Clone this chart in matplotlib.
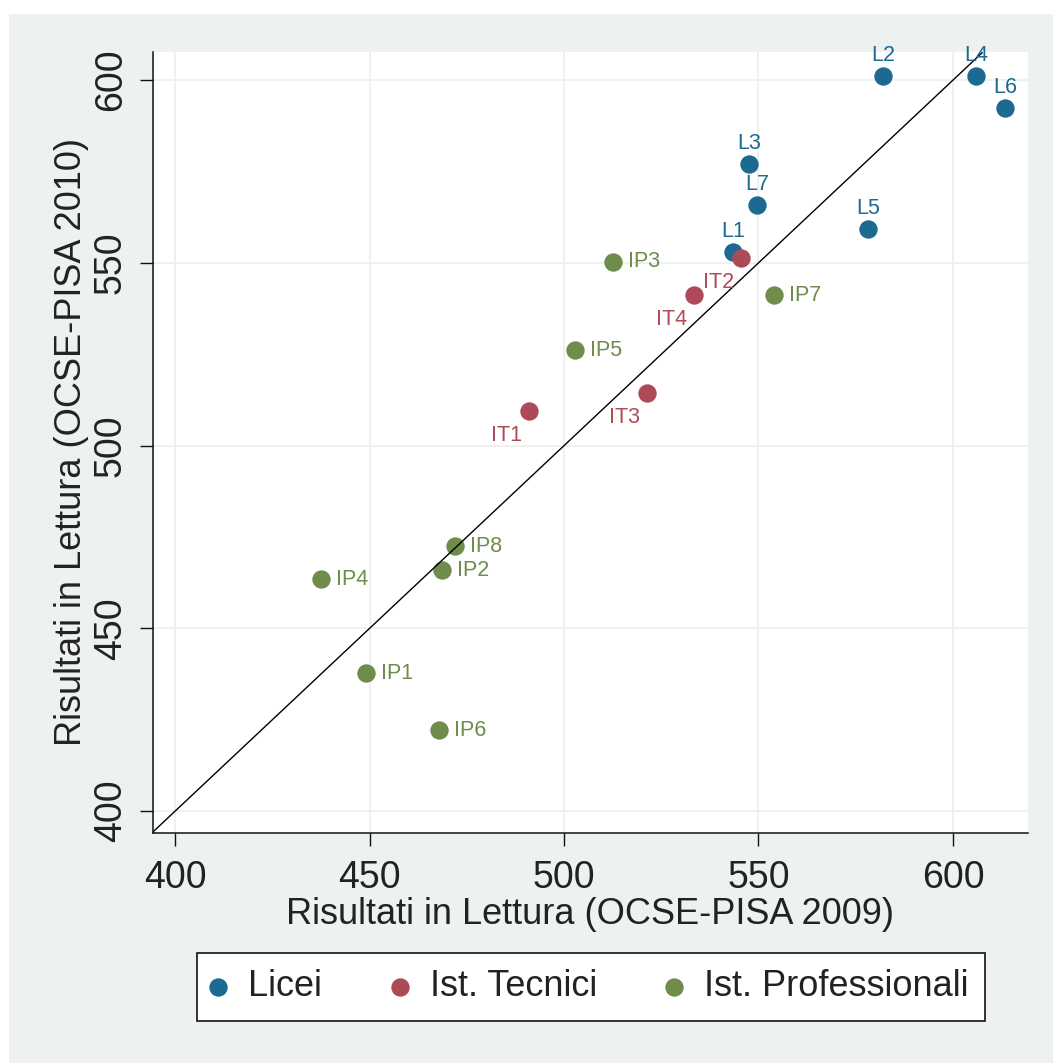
import matplotlib
matplotlib.use("Agg")
import matplotlib.pyplot as plt
from matplotlib.patches import Rectangle

plt.rcParams['font.family'] = ['Liberation Sans', 'DejaVu Sans']

# Licei
lic_names = ["L1", "L2", "L3", "L4", "L5", "L6", "L7"]
lic_2009 = [543.4, 582.0, 547.6, 605.9, 578.1, 613.4, 549.6]
lic_2010 = [552.9, 601.1, 577.0, 601.1, 559.2, 592.3, 565.8]

# Istituti tecnici
tec_names = ["IT1", "IT2", "IT3", "IT4"]
tec_2009 = [491.0, 545.5, 521.3, 533.4]
tec_2010 = [509.4, 551.2, 514.4, 541.2]

# Istituti professionali
pro_names = ["IP1", "IP2", "IP3", "IP4", "IP5", "IP6", "IP7", "IP8"]
pro_2009 = [449.1, 468.6, 512.6, 437.5, 502.8, 467.9, 554.0, 472.0]
pro_2010 = [437.7, 465.9, 550.3, 463.4, 526.1, 422.1, 541.2, 472.5]

ticks = [400, 450, 500, 550, 600]

c_lic = "#1c6a92"
c_tec = "#ad4a57"
c_pro = "#6f8c4c"
bg = "#edf2f1"

W, H = 1053, 1063
fig = plt.figure(figsize=(W / 100, H / 100), dpi=100)
fig.patch.set_facecolor("white")
fig.patches.append(Rectangle((9 / W, 0), 1 - 9 / W, 1 - 14 / H,
                             transform=fig.transFigure, facecolor=bg,
                             edgecolor="none", zorder=-10))

ax = fig.add_axes([153 / W, 1 - 833 / H, 875 / W, 781 / H])
ax.set_facecolor("white")
ax.set_xlim(394.3, 619.3)
ax.set_ylim(394.0, 607.7)

for t in ticks:
    ax.axvline(t, color="#ebf1f1", lw=1.3, zorder=0)
    ax.axhline(t, color="#ebf1f1", lw=1.3, zorder=0)

ms = 175
ax.scatter(lic_2009, lic_2010, s=ms, color=c_lic, zorder=3, label="Licei", linewidths=0)
ax.scatter(tec_2009, tec_2010, s=ms, color=c_tec, zorder=3, label="Ist. Tecnici", linewidths=0)
ax.scatter(pro_2009, pro_2010, s=ms, color=c_pro, zorder=3, label="Ist. Professionali", linewidths=0)

# bisettrice
ax.plot([394.0, 607.5], [394.0, 607.5], color="black", lw=1.0, zorder=4)

fs_lab = 15.5
for n, x, y in zip(lic_names, lic_2009, lic_2010):
    ax.annotate(n, (x, y), xytext=(0, 11), textcoords="offset points",
                ha="center", va="baseline", color=c_lic, fontsize=fs_lab, zorder=5)
for n, x, y in zip(tec_names, tec_2009, tec_2010):
    ax.annotate(n, (x, y), xytext=(-5, -10), textcoords="offset points",
                ha="right", va="top", color=c_tec, fontsize=fs_lab, zorder=5)
for n, x, y in zip(pro_names, pro_2009, pro_2010):
    ax.annotate(n, (x, y), xytext=(11, 0), textcoords="offset points",
                ha="left", va="center", color=c_pro, fontsize=fs_lab, zorder=5)

for s in ["top", "right"]:
    ax.spines[s].set_visible(False)
for s in ["left", "bottom"]:
    ax.spines[s].set_linewidth(1.1)
    ax.spines[s].set_color("#111111")

ax.set_xticks(ticks)
ax.set_yticks(ticks)
ax.tick_params(axis="both", direction="out", length=9.5, width=1.0,
               labelsize=27, color="#111111", labelcolor="#222222")
ax.tick_params(axis="x", pad=10)
ax.tick_params(axis="y", pad=8)
for lbl in ax.get_yticklabels():
    lbl.set_rotation(90)
    lbl.set_va("center")

ax.set_xlabel("Risultati in Lettura (OCSE-PISA 2009)", fontsize=26, color="#222222", labelpad=1)
ax.set_ylabel("Risultati in Lettura (OCSE-PISA 2010)", fontsize=26, color="#222222", labelpad=3)

leg = fig.legend(loc="center", ncol=3, fontsize=26, frameon=True, fancybox=False,
                 markerscale=1.0, handletextpad=0.69, columnspacing=2.0,
                 borderpad=0.45, handlelength=0.28, borderaxespad=0, framealpha=1,
                 bbox_to_anchor=(591 / W, 1 - 987 / H))
leg.get_frame().set_edgecolor("#111111")
leg.get_frame().set_facecolor("white")
leg.get_frame().set_linewidth(1.2)
for t in leg.get_texts():
    t.set_color("#222222")

fig.savefig("out.png", dpi=100, facecolor=fig.get_facecolor())
